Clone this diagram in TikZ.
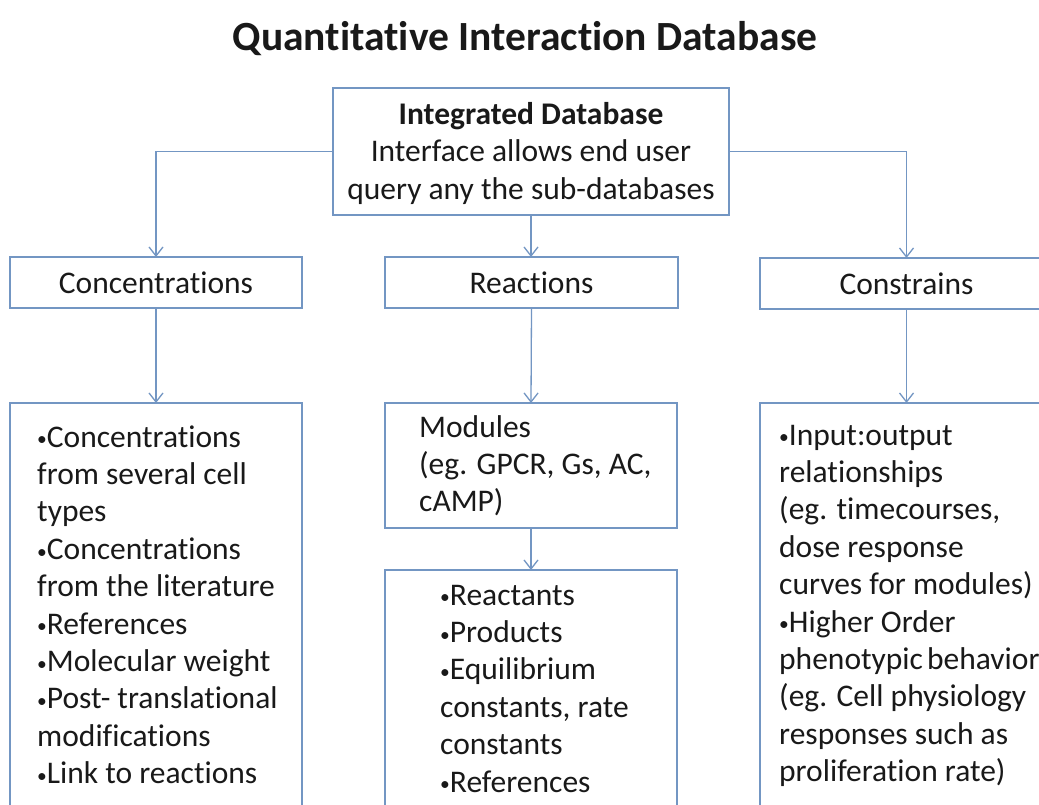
\documentclass[tikz,border=0pt]{standalone}
\usepackage{fontspec}
\usepackage{graphicx}
\setmainfont{Carlito}[Ligatures={NoCommon}]
\usetikzlibrary{arrows.meta}
\definecolor{ln}{RGB}{115,150,195}
\definecolor{tx}{RGB}{25,25,25}
\newcommand{\bu}{\raisebox{0.04em}{\scalebox{0.62}{•}}}
\begin{document}
\begin{tikzpicture}[x=1pt,y=-1pt,
  box/.style={draw=ln,line width=1.3pt,inner sep=0pt,outer sep=0pt,fill=white,text=tx,
    font=\fontsize{31.5}{37.4}\selectfont},
  body/.style={inner sep=0pt,anchor=north west,align=left,text=tx,font=\fontsize{31.5}{37.4}\selectfont},
  conn/.style={draw=ln,line width=1.3pt,-{Straight Barb[length=9pt,width=14pt]}}]
\useasboundingbox (0,0) rectangle (1039,804);
\clip (0,0) rectangle (1039,804);
\fill[white] (0,0) rectangle (1039,804);

\node[text=tx,anchor=base,font=\bfseries\fontsize{41.5}{44}\selectfont] (title) at (525,50) {Quantitative Interaction Database};

% top box
\node[box,minimum width=396pt,minimum height=127pt] (top) at (531,151.5) {};
\node[inner sep=0pt,anchor=north,align=center,text=tx,font=\fontsize{31.5}{37.8}\selectfont] (toptext) at (531,97.5)
  {\strut\textbf{Integrated Database}\\Interface allows end user\\query any the sub-databases};

% second row
\node[box,minimum width=292pt,minimum height=51pt] (conc) at (156,282.5) {Concentrations};
\node[box,minimum width=293pt,minimum height=51pt] (react) at (531.5,282.5) {Reactions};
\node[box,minimum width=293pt,minimum height=51pt] (cons) at (906.5,283.5) {Constrains};

% third row
\node[box,minimum width=292pt,minimum height=497pt] (concb) at (156,651.5) {};
\node[box,minimum width=292pt,minimum height=125pt] (mod) at (531,465.5) {};
\node[box,minimum width=292pt,minimum height=330pt] (reactb) at (531,735) {};
\node[box,minimum width=293pt,minimum height=497pt] (consb) at (906.5,651.5) {};

% texts
\node[body] (concbtext) at (37,420.8)
  {\strut\bu Concentrations\\from several cell\\types\\\bu Concentrations\\from the literature\\\bu References\\\bu Molecular weight\\\bu Post- translational\\modifications\\\bu Link to reactions};
\node[body] (modtext) at (419,410.8)
  {\strut Modules\\(eg. GPCR, Gs, AC,\\cAMP)};
\node[body] (reactbtext) at (440,578.8)
  {\strut\bu Reactants\\\bu Products\\\bu Equilibrium\\constants, rate\\constants\\\bu References};
\node[body] (consbtext) at (779,418.8)
  {\strut\bu Input:output\\relationships\\(eg. timecourses,\\dose response\\curves for modules)\\\bu Higher Order\\phenotypic\hspace{-3pt} behavior\\(eg. Cell physiology\\responses such as\\proliferation rate)};

% connectors
\draw[conn] (top.west) -| (conc.north);
\draw[conn] (top.south) -- (top.south |- react.north);
\draw[conn] (top.east) -| (cons.north);
\draw[conn] (conc.south) -- (concb.north);
\draw[conn] (react.south) -- (mod.north);
\draw[conn] (mod.south) -- (reactb.north);
\draw[conn] (cons.south) -- (consb.north);
\end{tikzpicture}
\end{document}
